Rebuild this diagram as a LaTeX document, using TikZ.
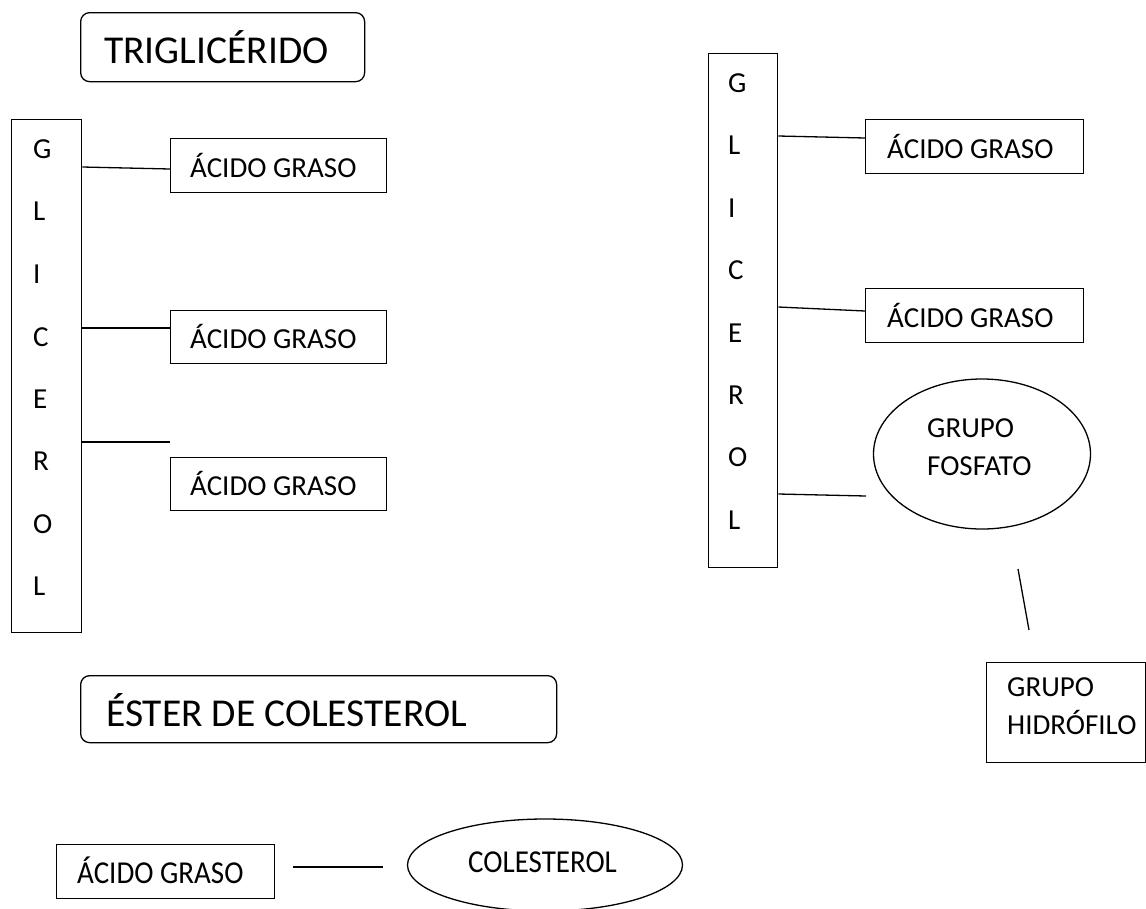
\documentclass[tikz,border=0pt]{standalone}
\usepackage{graphicx}
\usepackage{fontspec}
\setmainfont{Carlito}
\usetikzlibrary{shapes.geometric}
\begin{document}
\begin{tikzpicture}[x=1pt,y=-1pt,
  box/.style={draw=black,line width=1.3pt,rectangle,inner sep=0pt,anchor=north west},
  rbox/.style={box,rounded corners=9pt},
  oval/.style={draw=black,line width=1.3pt,ellipse,inner sep=0pt},
  txt/.style={inner sep=0pt,anchor=base west,font=\fontsize{29}{35}\selectfont},
  big/.style={inner sep=0pt,anchor=base west,font=\fontsize{39.5}{47}\selectfont},
  link/.style={draw=black,line width=1.3pt}]
\useasboundingbox (0,0) rectangle (1146,908);
\clip (0,0) rectangle (1146,908);
% titles
\node[rbox,minimum width=284pt,minimum height=69pt] (trig) at (80,12) {};
\node[big] (trigT) at (104,63) {TRIGLICÉRIDO};
\node[rbox,minimum width=476pt,minimum height=67pt] (ester) at (80,675) {};
\node[big] (esterT) at (106,726) {ÉSTER DE COLESTEROL};
% left glycerol
\node[box,minimum width=70pt,minimum height=513pt] (glyL) at (11,119) {};
\foreach \l/\y [count=\i] in {G/158,L/220,I/283,C/346,E/408,R/470,O/533,L/595}
  \node[txt] (gl\i) at (33,\y) {\l};
\node[box,minimum width=216pt,minimum height=54pt] (ag1) at (170,138) {};
\node[txt] (ag1T) at (190,177) {ÁCIDO GRASO};
\node[box,minimum width=216pt,minimum height=53pt] (ag2) at (170,310) {};
\node[txt] (ag2T) at (190,348) {ÁCIDO GRASO};
\node[box,minimum width=216pt,minimum height=53pt] (ag3) at (170,457) {};
\node[txt] (ag3T) at (190,495) {ÁCIDO GRASO};
\coordinate (c3) at (170,442);
\draw[link] (glyL.east |- 0,167) -- (ag1.west |- 0,169);
\draw[link] (glyL.east |- 0,328) -- (ag2.west |- 0,328);
\draw[link] (glyL.east |- c3) -- (c3);
% right glycerol
\node[box,minimum width=69pt,minimum height=514pt] (glyR) at (708,53) {};
\foreach \l/\y [count=\i] in {G/92,L/154,I/217,C/279,E/342,R/404,O/466,L/529}
  \node[txt] (gr\i) at (728,\y) {\l};
\node[box,minimum width=218pt,minimum height=54pt] (ag4) at (865,119) {};
\node[txt] (ag4T) at (887,158) {ÁCIDO GRASO};
\node[box,minimum width=218pt,minimum height=54pt] (ag5) at (865,288) {};
\node[txt] (ag5T) at (887,327) {ÁCIDO GRASO};
\node[oval,minimum width=217pt,minimum height=150pt] (fosf) at (982,454) {};
\node[txt] (fosfT1) at (927,437) {GRUPO};
\node[txt] (fosfT2) at (927,475) {FOSFATO};
\coordinate (c6) at (866,496);
\draw[link] (glyR.east |- 0,136) -- (ag4.west |- 0,138);
\draw[link] (glyR.east |- 0,307) -- (ag5.west |- 0,311);
\draw[link] (glyR.east |- 0,494) -- (c6);
\node[box,minimum width=159pt,minimum height=100pt] (hidro) at (986,662) {};
\node[txt] (hidroT1) at (1007,696) {GRUPO};
\node[txt] (hidroT2) at (1007,734) {HIDRÓFILO};
\coordinate (f1) at (1018,569);
\coordinate (f2) at (1029,630);
\draw[link] (f1) -- (f2);
% bottom
\node[box,minimum width=218pt,minimum height=54pt] (ag6) at (56,844) {};
\node[txt] (ag6T) at (77,883) {\scalebox{1}[1.1]{ÁCIDO GRASO}};
\node[oval,minimum width=275pt,minimum height=92pt] (col) at (545,865) {};
\node[txt] (colT) at (468,872) {\scalebox{1}[1.1]{COLESTEROL}};
\coordinate (b1) at (293,867);
\coordinate (b2) at (383,867);
\draw[link] (b1) -- (b2);
\end{tikzpicture}
\end{document}
